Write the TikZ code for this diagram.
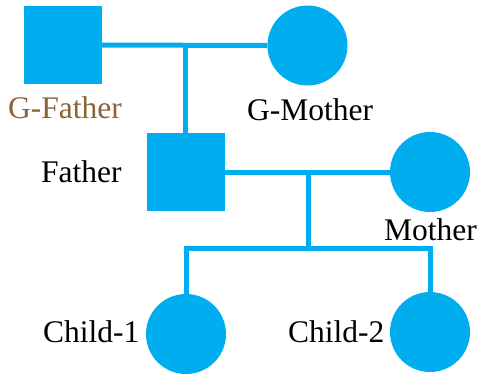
\documentclass[tikz,border=0pt]{standalone}
\usepackage{fontspec}
\setmainfont{Liberation Serif}
\definecolor{pedblue}{HTML}{00AEEF}
\definecolor{gfbrown}{HTML}{8C6239}
\begin{document}
\begin{tikzpicture}[x=1pt,y=-1pt,
  male/.style={rectangle,fill=pedblue,draw=none,minimum size=78pt,inner sep=0pt},
  female/.style={circle,fill=pedblue,draw=none,minimum size=80pt,inner sep=0pt},
  link/.style={draw=pedblue,line width=5pt,line join=miter},
  lbl/.style={font=\fontsize{31.5}{36}\selectfont,anchor=base west,inner sep=0pt}]
\useasboundingbox (0,0) rectangle (480,373);
\node[male] (gf) at (63,45) {};
\node[female] (gm) at (307.5,45.5) {};
\node[male] (f) at (185.5,172) {};
\node[female] (m) at (430,172) {};
\node[female] (c1) at (186,334) {};
\node[female] (c2) at (430,332) {};
\coordinate (j1) at (185.5,45);
\coordinate (j2) at (308,172);
\coordinate (j3) at (308,248);
\draw[link] (gf.east) -- (gm.west);
\draw[link] (j1) -- (f.north);
\draw[link] (f.east) -- (m.west);
\draw[link] (j2) -- (j3);
\draw[link] (c1.north) -- (c1.north |- j3) -- (c2.north |- j3) -- (c2.north);
\node[lbl,text=gfbrown] (tgf) at (8,118) {G-Father};
\node[lbl] (tgm) at (247,120) {G-Mother};
\node[lbl] (tf) at (41,182) {Father};
\node[lbl] (tm) at (384,240) {Mother};
\node[lbl] (tc1) at (43,342) {Child-1};
\node[lbl] (tc2) at (288,342) {Child-2};
\end{tikzpicture}
\end{document}
